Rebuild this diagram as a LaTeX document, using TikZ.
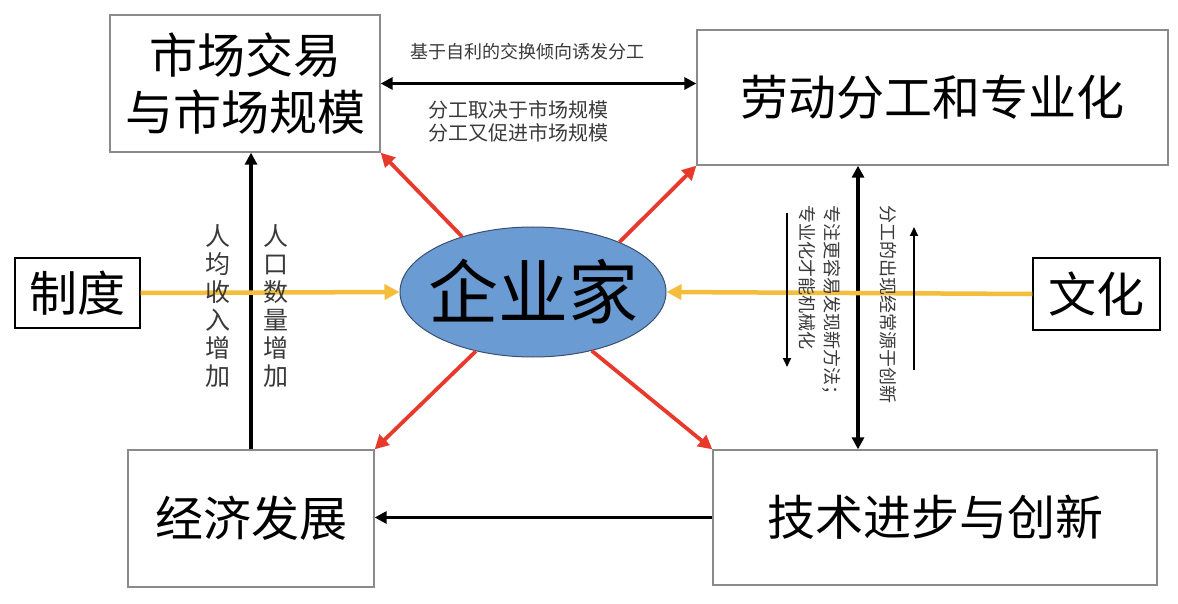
\documentclass[tikz,border=0pt]{standalone}
\usepackage{fontspec}
\setmainfont{Noto Sans CJK SC}
\usetikzlibrary{arrows.meta,shapes.geometric}
\definecolor{boxgray}{HTML}{8A8A8A}
\definecolor{eblue}{HTML}{6A9BD3}
\definecolor{eedge}{HTML}{3B4F70}
\definecolor{yel}{HTML}{F4BE3C}
\definecolor{redarr}{HTML}{E83A2C}
\definecolor{txtgray}{HTML}{3A3A3A}
\begin{document}
\begin{tikzpicture}[x=1pt,y=-1pt,
  box/.style={draw=boxgray,line width=1.3pt,fill=white,inner sep=0pt,align=center,font=\fontsize{48}{57}\selectfont},
  blk/.style={draw=black,line width=3.4pt,-{Triangle[length=12pt,width=12pt]}},
  blkd/.style={draw=black,line width=3.4pt,{Triangle[length=12pt,width=12pt]}-{Triangle[length=12pt,width=12pt]}},
  thin/.style={draw=black,line width=1.8pt,-{Triangle[length=9pt,width=8pt]}},
  yarr/.style={draw=yel,line width=4.5pt,-{Triangle[length=15pt,width=15pt]}},
  rarr/.style={draw=redarr,line width=3.8pt,-{Triangle[length=14pt,width=14pt]}},
  small/.style={text=txtgray,inner sep=0pt,align=center},
  vtxt/.style={text=txtgray,inner sep=0pt,align=center,font=\fontsize{25}{28}\selectfont},
  rot/.style={text=txtgray,inner sep=0pt,align=left,rotate=-90,anchor=west,font=\fontsize{18}{25}\selectfont}]
\useasboundingbox (0,0) rectangle (1178,604);
\fill[white] (0,0) rectangle (1178,604);
\node[box,minimum width=270pt,minimum height=137pt] (m) at (245,83.5) {市场交易\\与市场规模};
\node[box,minimum width=471pt,minimum height=135pt] (l) at (932.5,97.5) {劳动分工和专业化};
\node[box,minimum width=246pt,minimum height=137pt] (e) at (251,518.5) {经济发展};
\node[box,minimum width=444pt,minimum height=135pt] (t) at (935,517.5) {技术进步与创新};
\node[box,minimum width=125pt,minimum height=70pt,draw=black] (zd) at (77.5,293) {制度};
\node[box,minimum width=127pt,minimum height=72pt,draw=black] (wh) at (1096.5,294) {文化};
\node[ellipse,draw=eedge,line width=1pt,fill=eblue,minimum width=266pt,minimum height=130pt,inner sep=0pt] (qy) at (533,292) {};
\node[inner sep=0pt,font=\fontsize{70}{80}\selectfont] (qyt) at (qy) {企业家};
% arrows
\draw[blkd] (m.east) -- (m.east -| l.west);
\draw[blk] (e.north) -- (e.north |- m.south);
\coordinate (vx) at (858,0);
\draw[blkd] (l.south -| vx) -- (t.north -| vx);
\draw[blk] (t.west) -- (t.west -| e.east);
\draw[yarr] (zd.east) -- (qy.west);
\draw[yarr] (wh.west) -- (qy.east);
\draw[rarr] (qy.142) -- (m.south east);
\draw[rarr] (qy.30) -- (l.south west);
\draw[rarr] (qy.226) -- (e.north east);
\draw[rarr] (qy.315) -- (t.north west);
\coordinate (d1) at (787,213);
\coordinate (d2) at (787,367);
\draw[thin] (d1) -- (d2);
\coordinate (u1) at (914,370);
\coordinate (u2) at (914,227);
\draw[thin] (u1) -- (u2);
% texts
\node[small,font=\fontsize{18}{22}\selectfont] (s1) at (527,52) {基于自利的交换倾向诱发分工};
\node[small,font=\fontsize{20}{23}\selectfont] (s2) at (518,121) {分工取决于市场规模\\分工又促进市场规模};
\node[vtxt] (v1) at (218,306) {人\\均\\收\\入\\增\\加};
\node[vtxt] (v2) at (276,306) {人\\口\\数\\量\\增\\加};
\node[rot] (r1) at (820,205) {专注更容易发现新方法；\\专业化才能机械化};
\node[rot] (r2) at (888,205) {分工的出现经常源于创新};
\end{tikzpicture}
\end{document}
